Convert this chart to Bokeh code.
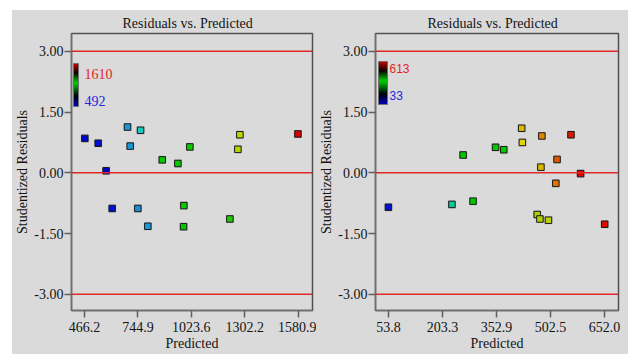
import numpy as np
from bokeh.plotting import figure
from bokeh.models import (ColumnDataSource, LinearColorMapper, ColorBar, Span, Label,
                          FixedTicker, NumeralTickFormatter, Range1d)
from bokeh.layouts import row
from bokeh.embed import file_html
from bokeh.resources import INLINE

# ---------------- data ----------------
title_text = "Residuals vs. Predicted"
x_label = "Predicted"
y_label = "Studentized Residuals"
limit_lines = [3.0, 0.0, -3.0]
y_ticks = [-3.0, -1.5, 0.0, 1.5, 3.0]

# left panel
left_x_ticks = [466.2, 744.9, 1023.6, 1302.2, 1580.9]
left_predicted = [468.0, 537.6, 579.0, 690.6, 758.5, 704.6, 871.7, 953.3, 1015.8,
                  1276.7, 1266.3, 1579.5, 610.6, 744.5, 796.6, 984.5, 983.0, 1224.6]
left_residuals = [0.85, 0.73, 0.05, 1.13, 1.05, 0.66, 0.32, 0.23, 0.64,
                  0.94, 0.58, 0.96, -0.88, -0.88, -1.32, -0.81, -1.33, -1.14]
left_actual = [505, 510, 500, 682, 800, 682, 1051, 1051, 1060,
               1290, 1270, 1610, 515, 670, 682, 1060, 1051, 1090]
left_low, left_high = 492, 1610

# right panel
right_x_ticks = [53.8, 203.3, 352.9, 502.5, 652.0]
right_predicted = [53.8, 229.5, 288.0, 260.5, 350.3, 373.0, 422.5, 424.4, 478.4,
                   475.7, 558.9, 520.4, 585.5, 517.0, 465.5, 473.0, 496.6, 652.2]
right_residuals = [-0.85, -0.78, -0.70, 0.44, 0.63, 0.57, 1.10, 0.75, 0.91,
                   0.14, 0.94, 0.33, -0.02, -0.26, -1.03, -1.14, -1.17, -1.27]
right_actual = [45, 230, 323, 323, 323, 323, 509, 485, 543,
                509, 601, 572, 613, 555, 427, 427, 439, 607]
right_low, right_high = 33, 613


# ---------------- styling helpers ----------------
def make_palette(stops, colors, n=256):
    f = np.linspace(0, 1, n)
    cols = np.array(colors, dtype=float)
    r = np.interp(f, stops, cols[:, 0])
    g = np.interp(f, stops, cols[:, 1])
    b = np.interp(f, stops, cols[:, 2])
    return ["#%02x%02x%02x" % (int(round(a)), int(round(c)), int(round(d))) for a, c, d in zip(r, g, b)]

point_palette = make_palette(
    [0.0, 0.15, 0.25, 0.35, 0.5, 0.68, 0.78, 0.84, 0.9, 0.95, 1.0],
    [(0, 0, 200), (25, 140, 215), (30, 200, 205), (0, 205, 140), (0, 200, 0),
     (175, 210, 0), (225, 215, 0), (215, 175, 0), (225, 115, 0), (225, 65, 0), (220, 0, 0)])
bar_palette = make_palette(
    [0.0, 0.25, 0.55, 0.78, 1.0],
    [(0, 0, 190), (0, 0, 10), (0, 210, 0), (10, 0, 0), (200, 0, 0)])

BG = "#DADADA"
SERIF = "Liberation Serif"
TXT = "#141414"


def panel(width, bl, br, xr, x_ticks, xs, ys, cs, lo, hi, hi_lbl, lo_lbl,
          lbl_font, lbl_size, bar_w, bar_loc, lbl_x, hi_y, lo_y, title_off):
    p = figure(width=width, height=344, output_backend="svg", toolbar_location=None,
               x_range=Range1d(*xr), y_range=Range1d(-3.4, 3.44),
               min_border_left=bl, min_border_right=br, min_border_top=23,
               min_border_bottom=44)
    p.background_fill_color = BG
    p.border_fill_color = BG
    p.outline_line_color = "#505050"
    p.outline_line_width = 1.5
    p.grid.visible = False

    p.title.text = title_text
    p.title.align = "left"
    p.title.offset = title_off
    p.title.text_font = SERIF
    p.title.text_font_size = "14px"
    p.title.text_font_style = "normal"
    p.title.text_color = TXT
    p.title.standoff = 5

    for ax in (p.xaxis[0], p.yaxis[0]):
        ax.axis_line_color = "#707070"
        ax.axis_line_width = 1.5
        ax.major_tick_line_color = "#606060"
        ax.major_tick_line_width = 1.5
        ax.major_tick_out = 7
        ax.major_tick_in = 0
        ax.minor_tick_line_color = None
        ax.major_label_text_font = SERIF
        ax.major_label_text_font_size = "14px"
        ax.major_label_text_color = TXT
        ax.axis_label_text_font = SERIF
        ax.axis_label_text_font_size = "14px"
        ax.axis_label_text_font_style = "normal"
        ax.axis_label_text_color = TXT
        ax.major_label_standoff = 1
        ax.axis_label_standoff = 1
    p.xaxis.major_label_standoff = 4

    p.xaxis.ticker = FixedTicker(ticks=x_ticks)
    p.xaxis.formatter = NumeralTickFormatter(format="0.0")
    p.xaxis.axis_label = x_label
    p.yaxis.ticker = FixedTicker(ticks=y_ticks)
    p.yaxis.formatter = NumeralTickFormatter(format="0.00")
    p.yaxis.axis_label = y_label

    for loc in limit_lines:
        p.add_layout(Span(location=loc, dimension="width", line_color="#E02828",
                          line_width=1.5))

    mapper = LinearColorMapper(palette=point_palette, low=lo, high=hi)
    src = ColumnDataSource(dict(x=xs, y=ys, c=cs))
    p.scatter("x", "y", source=src, marker="square", size=8, fill_color="#9a9a9a",
              line_color=None, fill_alpha=0.5)
    p.scatter("x", "y", source=src, marker="square", size=6.5,
              fill_color={"field": "c", "transform": mapper},
              line_color="#1a1a1a", line_width=1)

    bar_mapper = LinearColorMapper(palette=bar_palette, low=lo, high=hi)
    cb = ColorBar(color_mapper=bar_mapper, location=bar_loc, width=bar_w, height=43,
                  padding=0, margin=0, border_line_color=None,
                  background_fill_alpha=0, bar_line_color="#707070", bar_line_width=1,
                  ticker=FixedTicker(ticks=[]),
                  major_tick_line_color=None,
                  minor_tick_line_color=None, label_standoff=0)
    p.add_layout(cb)
    p.add_layout(Label(x=lbl_x, y=hi_y, x_units="screen", y_units="screen", text=hi_lbl,
                       text_color="#E02424", text_font=lbl_font, text_font_size=lbl_size,
                       text_baseline="middle"))
    p.add_layout(Label(x=lbl_x, y=lo_y, x_units="screen", y_units="screen", text=lo_lbl,
                       text_color="#2424E0", text_font=lbl_font, text_font_size=lbl_size,
                       text_baseline="middle"))
    return p


left = panel(304, 59, 4, (398.4, 1655.5), left_x_ticks, left_predicted, left_residuals,
             left_actual, left_low, left_high, str(left_high), str(left_low),
             SERIF, "14px", 5, (2, 204), 13, 237, 210, 51)
right = panel(312, 57, 10, (18.1, 690.4), right_x_ticks, right_predicted, right_residuals,
              right_actual, right_low, right_high, str(right_high), str(right_low),
              "Liberation Sans", "12px", 9, (3, 206), 14, 242, 215, 52)

layout = row(left, right, spacing=0, margin=(10, 0, 0, 12), background=BG)

open("out.html", "w").write(file_html(layout, INLINE))
